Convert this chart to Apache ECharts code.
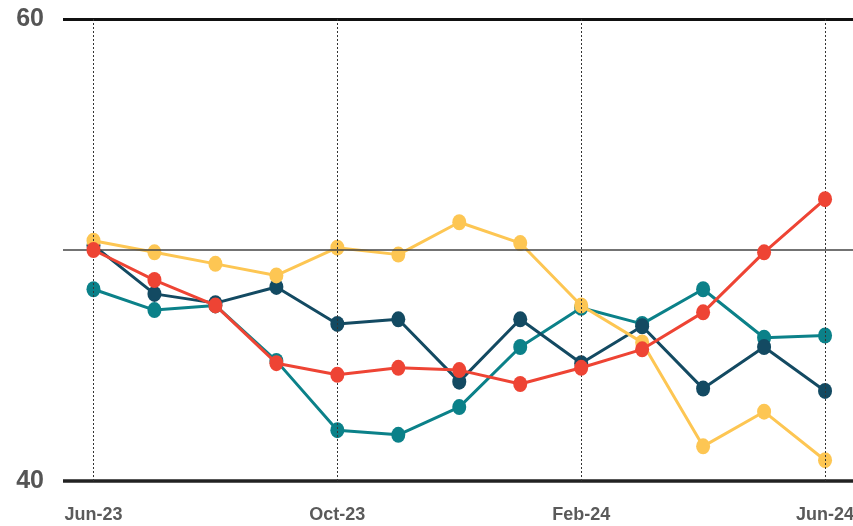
<!DOCTYPE html>
<html>
<head>
<meta charset="utf-8">
<script src="https://cdn.jsdelivr.net/npm/echarts@6/dist/echarts.min.js"></script>
<style>
  html, body { margin: 0; padding: 0; background: #fff; overflow: hidden; }
  #chart { width: 857px; height: 526px; }
</style>
</head>
<body>
<div id="chart"></div>
<script>
// Monthly readings, June 2023 to June 2024
const months = ['Jun-23','Jul-23','Aug-23','Sep-23','Oct-23','Nov-23','Dec-23','Jan-24','Feb-24','Mar-24','Apr-24','May-24','Jun-24'];
const tealValues   = [48.3, 47.4, 47.6, 45.2, 42.2, 42.0, 43.2, 45.8, 47.5, 46.8, 48.3, 46.2, 46.3];
const navyValues   = [50.2, 48.1, 47.7, 48.4, 46.8, 47.0, 44.3, 47.0, 45.1, 46.7, 44.0, 45.8, 43.9];
const yellowValues = [50.4, 49.9, 49.4, 48.9, 50.1, 49.8, 51.2, 50.3, 47.6, 46.0, 41.5, 43.0, 40.9];
const redValues    = [50.0, 48.7, 47.6, 45.1, 44.6, 44.9, 44.8, 44.2, 44.9, 45.7, 47.3, 49.9, 52.2];
const markedMonths = ['Jun-23','Oct-23','Feb-24','Jun-24'];
const yTicks = [40, 60];

const chart = echarts.init(document.getElementById('chart'), null, { renderer: 'canvas' });

function lineSeries(name, values, color, z) {
  return {
    name: name,
    type: 'line',
    data: values,
    z: z,
    symbol: 'circle',
    symbolSize: [14, 16],
    showAllSymbol: true,
    lineStyle: { width: 3, color: color },
    itemStyle: { color: color },
    emphasis: { disabled: true },
    animation: false
  };
}

const guideLines = [
  { yAxis: 60, lineStyle: { width: 3, color: '#111', type: 'solid' } },
  { yAxis: 50, lineStyle: { width: 1.5, color: '#444', type: 'solid' } },
  { yAxis: 40, lineStyle: { width: 3.5, color: '#222', type: 'solid' } }
].concat(markedMonths.map(m => ({
  xAxis: m,
  lineStyle: { width: 1, color: '#333', type: [2, 2] }
})));

chart.setOption({
  animation: false,
  grid: { left: 63, right: 0, top: 19, bottom: 45, containLabel: false },
  xAxis: {
    type: 'category',
    data: months,
    boundaryGap: true,
    axisLine: { show: false },
    axisTick: { show: false },
    splitLine: { show: false },
    axisLabel: {
      interval: 3,
      margin: 25,
      color: '#5a5a5a',
      fontSize: 18,
      fontWeight: 'bold',
      fontFamily: 'Liberation Sans, Arial, sans-serif'
    }
  },
  yAxis: {
    type: 'value',
    min: 40,
    max: 60,
    interval: 10,
    axisLine: { show: false },
    axisTick: { show: false },
    splitLine: { show: false },
    axisLabel: {
      margin: 19,
      padding: [5, 0, 0, 0],
      color: '#555',
      fontSize: 25,
      fontWeight: 'bold',
      fontFamily: 'Liberation Sans, Arial, sans-serif',
      formatter: v => (yTicks.indexOf(v) >= 0 ? String(v) : '')
    }
  },
  series: [
    {
      name: 'guides',
      type: 'line',
      data: months.map(() => null),
      z: 1,
      silent: true,
      symbol: 'none',
      markLine: {
        silent: true,
        symbol: ['none', 'none'],
        label: { show: false },
        emphasis: { disabled: true },
        animation: false,
        data: guideLines
      }
    },
    lineSeries('teal', tealValues, '#0b8189', 2),
    lineSeries('navy', navyValues, '#134a62', 3),
    lineSeries('yellow', yellowValues, '#fdc653', 4),
    lineSeries('red', redValues, '#ee4434', 5)
  ]
});
</script>
</body>
</html>
